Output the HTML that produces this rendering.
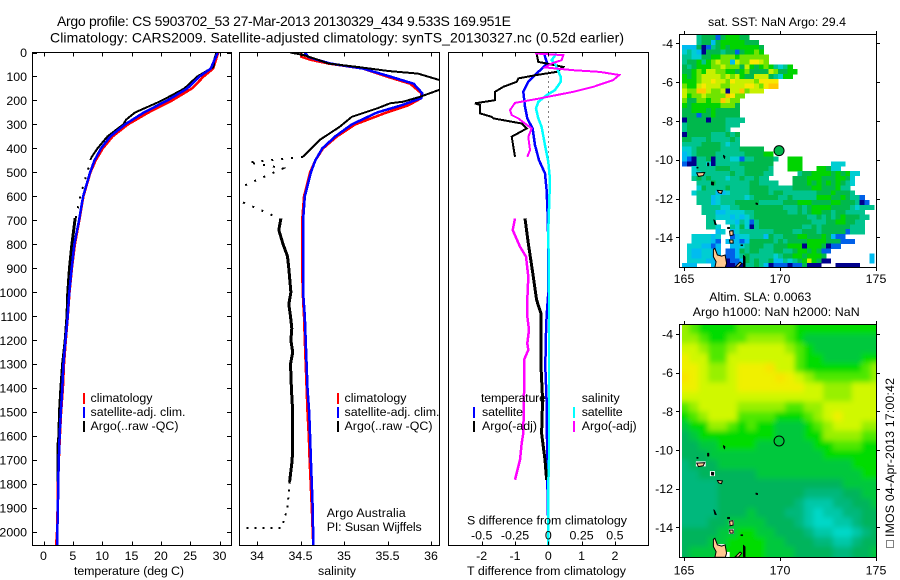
<!DOCTYPE html>
<html lang="en">
<head>
<meta charset="utf-8">
<title>Argo profile</title>
<style>
html,body{margin:0;padding:0;background:#fff}
svg{display:block}
text{font-family:"Liberation Sans",sans-serif;font-size:12.4px;fill:#000}
</style>
</head>
<body>
<svg id="chart" xmlns="http://www.w3.org/2000/svg" width="900" height="580" viewBox="0 0 900 580">
<defs>
<clipPath id="clip-t"><rect x="33" y="53" width="198" height="492"/></clipPath>
<clipPath id="clip-s"><rect x="240" y="53" width="199" height="492"/></clipPath>
<clipPath id="clip-d"><rect x="449" y="53" width="199" height="492"/></clipPath>
<clipPath id="clip-sst"><rect x="680" y="35" width="196" height="232"/></clipPath>
<clipPath id="clip-sla"><rect x="682" y="325" width="194" height="232"/></clipPath>
<filter id="soft" filterUnits="userSpaceOnUse" x="640" y="290" width="260" height="290"><feGaussianBlur stdDeviation="2.6"/></filter>
</defs>
<rect x="0" y="0" width="900" height="580" fill="#fff"/>
<text x="57" y="26" style="font-size:14px" textLength="454" lengthAdjust="spacing">Argo profile: CS 5903702_53 27-Mar-2013 20130329_434 9.533S 169.951E</text>
<text x="50" y="42.5" style="font-size:14px" textLength="574" lengthAdjust="spacing">Climatology: CARS2009. Satellite-adjusted climatology: synTS_20130327.nc (0.52d earlier)</text>

<g id="panel-t"></g>
<g id="panel-s"></g>
<g id="panel-d"></g>
<g id="panel-sst"></g>
<g id="panel-sla"></g>

<text x="74" y="575" textLength="110" lengthAdjust="spacing">temperature (deg C)</text>
<text x="318" y="575" textLength="38" lengthAdjust="spacing">salinity</text>
<text x="467" y="575" textLength="159" lengthAdjust="spacing">T difference from climatology</text>
<text x="467" y="524.5" textLength="160" lengthAdjust="spacing">S difference from climatology</text>

<g>
<rect x="83" y="393" width="2" height="11" fill="#f00"/>
<rect x="83" y="407" width="2" height="11" fill="#00f"/>
<rect x="83" y="421" width="2" height="11" fill="#000"/>
<text x="90.5" y="402" textLength="62">climatology</text>
<text x="90.5" y="416" textLength="95">satellite-adj. clim.</text>
<text x="90.5" y="430" textLength="88">Argo(..raw -QC)</text>
</g>
<g>
<rect x="337" y="393" width="2" height="11" fill="#f00"/>
<rect x="337" y="407" width="2" height="11" fill="#00f"/>
<rect x="337" y="421" width="2" height="11" fill="#000"/>
<text x="344.5" y="402" textLength="62">climatology</text>
<text x="344.5" y="416" textLength="95">satellite-adj. clim.</text>
<text x="344.5" y="430" textLength="88">Argo(..raw -QC)</text>
</g>
<g>
<text x="326.7" y="517" textLength="79">Argo Australia</text>
<text x="326.7" y="531" textLength="95">PI: Susan Wijffels</text>
</g>
<g>
<text x="481" y="402" textLength="65">temperature</text>
<rect x="473" y="407" width="2" height="11" fill="#00f"/>
<text x="482" y="416" textLength="41">satellite</text>
<rect x="473" y="421" width="2" height="11" fill="#000"/>
<text x="482" y="430" textLength="55">Argo(-adj)</text>
<text x="581.7" y="402" textLength="38">salinity</text>
<rect x="573" y="407" width="2" height="11" fill="#0ff"/>
<text x="581.7" y="416" textLength="41">satellite</text>
<rect x="573" y="421" width="2" height="11" fill="#f0f"/>
<text x="581.7" y="430" textLength="55">Argo(-adj)</text>
</g>

<text x="708" y="26" textLength="138">sat. SST: NaN Argo: 29.4</text>
<text x="709.3" y="301" textLength="102">Altim. SLA: 0.0063</text>
<text x="692.7" y="316" textLength="167">Argo h1000: NaN h2000: NaN</text>

<g>
<rect x="886.5" y="540.5" width="7" height="7" fill="none" stroke="#000" stroke-width="1" stroke-dasharray="1 1"/>
<text transform="translate(894 537) rotate(-90)" x="0" y="0" textLength="159">IMOS 04-Apr-2013 17:00:42</text>
</g>
</svg>

<script>
// ---------- tick labels ----------
var depthTicks = [0,100,200,300,400,500,600,700,800,900,1000,1100,1200,1300,1400,1500,1600,1700,1800,1900,2000];
var tempTicks = [0,5,10,15,20,25,30];
var salTicks = [34,34.5,35,35.5,36];
var dTTicks = [-2,-1,0,1,2];
var dSTicks = [-0.5,-0.25,0,0.25,0.5];
var latTicks = [-4,-6,-8,-10,-12,-14];
var lonTicks = [165,170,175];

// ---------- temperature profiles ----------
var climTDepth = [0,67,100,150,200,250,300,350,400,450,500,600,700,800,900,1000,1100,1200,1300,1400,1500,1600,1700,1800,1900,2000,2056];
var climT = [29.8,28.9,27.3,25.3,21.9,17.9,14.4,11.8,10.1,8.9,8.0,6.8,6.1,5.35,4.84,4.43,4.15,3.8,3.5,3.3,3.0,2.8,2.6,2.45,2.4,2.3,2.15];
var satT = [29.7,28.5,26.6,24.5,21.1,17.1,13.9,11.4,9.8,8.7,7.95,6.75,6.05,5.25,4.8,4.4,4.12,3.75,3.4,3.2,2.95,2.75,2.6,2.5,2.45,2.35,2.3];
var argoTDepthA = [0,20,60,70,100,150,200,210,250,280,300,350,400,440];
var argoTA = [29.5,29.2,29.0,28.3,26.2,24.0,20.2,19.3,15.6,14.1,13.6,10.9,9.2,8.1];
var argoTDepthDots = [440,458,600,690];
var argoTDots = [8.1,7.95,6.25,5.5];
var argoTDepthB = [690,800,900,1000,1100,1200,1300,1400,1500,1600,1640,1790];
var argoTB = [5.4,4.84,4.43,4.15,4.0,3.7,3.25,2.96,2.73,2.62,2.45,2.5];

// ---------- salinity profiles ----------
var salDepth = [0,18,30,46,67,100,130,170,190,220,250,300,350,400,450,500,600,700,900,1000,1100,1200,1300,1400,1500,1600,1700,1800,1900,2000,2056];
var climS = [34.51,34.51,34.61,34.82,35.22,35.49,35.76,35.89,35.89,35.74,35.49,35.13,34.92,34.76,34.67,34.61,34.54,34.52,34.52,34.525,34.54,34.55,34.56,34.57,34.58,34.595,34.605,34.617,34.63,34.64,34.647];
var satS = [34.55,34.59,34.69,34.84,35.22,35.53,35.8,35.9,35.89,35.66,35.38,35.09,34.9,34.75,34.67,34.62,34.55,34.53,34.53,34.53,34.55,34.56,34.57,34.58,34.6,34.61,34.62,34.63,34.64,34.645,34.65];
var argoSDepthA = [0,10,30,46,60,77,88,115,135,155,185,205,212,233,268,310,365,435];
var argoSA = [34.38,34.53,34.7,34.82,35.15,35.51,35.85,36.1,36.2,36.1,35.87,35.68,35.53,35.38,35.09,34.95,34.72,34.53];
var argoSDepthDots1 = [435,458,483,557];
var argoSDots1 = [34.53,33.9,34.3,33.84];
var argoSDepthDots2 = [625,692];
var argoSDots2 = [33.84,34.26];
var argoSDepthB = [692,740,800,850,900,1000,1050,1100,1150,1200,1250,1300,1400,1500,1600,1700,1790];
var argoSB = [34.275,34.25,34.3,34.35,34.365,34.39,34.365,34.385,34.4,34.39,34.41,34.385,34.395,34.41,34.41,34.405,34.375];
var argoSDepthDots3 = [1790,1900,1962,1982,1982];
var argoSDots3 = [34.375,34.35,34.3,34.28,33.81];

// ---------- differences ----------
var dSatTDepth = [4,46,81,122,164,226,275,317,386,449,504,574,671,800,1000,1100,1171,1310,1449,1727,1865,1977];
var dSatT = [-0.13,-0.03,-0.3,-0.6,-0.75,-0.7,-0.63,-0.47,-0.4,-0.28,-0.1,-0.05,-0.02,0,0,-0.05,-0.07,-0.09,-0.05,-0.03,-0.02,0];
var dSatSDepth = [4,32,46,101,122,157,178,206,233,275,310,386,456,532,615,740,1000,1700,1800,2056];
var dSatS = [0.0625,0.025,0.05,0.0925,0.0925,0.05,-0.0125,-0.075,-0.0925,-0.075,-0.05,-0.025,0,0.0125,0.0075,0,0.005,0.005,0,0];
var dArgoTDepthA = [4,39,46,60,81,94,108,122,143,164,199,212,219,254,268,275,296,317,351,435];
var dArgoTA = [-0.35,-0.3,-0.05,0.45,0.25,-0.35,-0.9,-0.95,-1.35,-1.6,-1.6,-2.2,-2.05,-2.05,-1.7,-1.65,-0.8,-0.65,-1.1,-1.0];
var dArgoTDepthB = [692,796,935,1032,1088,1310,1449,1588,1699,1782];
var dArgoTB = [-0.7,-0.6,-0.45,-0.35,-0.22,-0.22,-0.17,-0.2,-0.1,-0.05];
var dArgoSDepthA = [4,11,32,46,62,74,81,94,115,143,164,194,210,240,261,275,317,351,407,435];
var dArgoSA = [-0.1,0.1125,0.1,0.025,-0.025,0.1875,0.3875,0.5325,0.4875,0.3375,0.1875,-0.0875,-0.25,-0.2875,-0.275,-0.225,-0.125,-0.15,-0.1375,-0.1575];
var dArgoSDepthB = [692,740,810,851,935,1032,1101,1157,1213,1240,1282,1421,1588,1629,1699,1782];
var dArgoSB = [-0.25,-0.2675,-0.2125,-0.1675,-0.15,-0.1575,-0.1575,-0.145,-0.1575,-0.15,-0.1825,-0.1825,-0.1875,-0.2,-0.2125,-0.25];
var zeroDepth = [80,450];
var zeroValue = [0,0];

// ---------- SST map (0.25 deg cells, a=coldest .. k=warmest) ----------
var sstCodes = {a:'#00008c',b:'#0060e8',c:'#00bcf0',d:'#00ced2',e:'#00c48e',f:'#00b84c',g:'#00d400',h:'#70e400',i:'#c8f000',j:'#f8e800',k:'#ffc800'};
var sstRows = [
"...efffbfgggff",
"...effcfgggggfff",
"cccfabefgfggggggf",
"dedcafffeffbfgghg",
"eeddffgghhhghhhhhh",
"effgeghihhcihhjjih",
"fefggghhihhhfigfghgedeg",
"ffghgiihhggfghffffihffgg",
"gfghiiiihihigffiiifedgg",
"ggghiijiihjiiiihjjjj",
"hggijiiihhiiijjihjkk",
"ihhkkihhiaiikhiii",
"ighhihhhhkjhh",
"hffhhghhkihh",
"gfgggggghhhf",
"ffgggfgfffff",
"fffbffgfffff",
"affffafffeeee",
"effffffffeee",
"effffffffe",
"afffffeeefef",
"ffeeefeeeefe",
"eeeeffffedee",
"ddefffffeeeefffff",
"cdeffffeeeeeeffffgg",
"cbaeefaeeeddbeeffffe..ggg",
"baaeedaeeeeefffffff...ggg......ddd",
"..deeeefffeeefffffe...ggg...ggfdd",
"..ddeeeeeefeeffffee.....effggggfgfgdd",
"..efefeeedeefeefee.....fffgggfffggfd",
"...eeefeeeeeeeffeeee...fffgfgfgfgfed",
"...dfeeeefeeeeffffeeeeeffffggfffgee",
"..deeeeccdeeeeffffeffeeeeeeefffgfffe",
"...eeecdeeeeedefffffeefeeeeegggffgfeeb",
"...eeecdeeefffffeeeeefffgggffffggfffeab",
"....eeeeddeefffffffffeeefefggggffffedeee",
"....eeeccddddeefffffffeefefggffeffeeee",
".....eedddcdcdefffffffffffeefefefgfffee",
".....ee..ddcedbefffffffffffeeeffggffee",
".....eed..edfdaefffffffffeefeffffffeee",
".......cd.cdeeeeeeeffffeefffefffffbeee",
"..ddddcd..bcddeeecfeefffggfffgfcbb",
"..ddddcb.cccbcfffffefeffffggggfffbbb",
".dddccbc..ccdefffeefffgggagggfabb",
".dccddcc.bbcfeffeeeffeefggfgfbb",
".dccddcc.bbcefeeeeedeffggfgggf.........c",
".ddddcc..abbcfefeefccedefgigfaa........c",
"ccc...c..aabaeefecabbbabbfaaa...aaaaa.."
];

// ---------- SLA map (0.5 deg cells, 0=lowest .. a=highest) ----------
var slaCodes = {'0':'#00d8c8','1':'#00c8a8','2':'#00b87c','3':'#00b45c','4':'#00c83c','5':'#00dc00','6':'#50e800','7':'#98f000','8':'#d0f800','9':'#f0f000','a':'#f8e400'};
var slaRows = [
"765555666666555555555",
"776556677776544444444",
"887667888887654444444",
"988668888888655444455",
"998778999a88655555567",
"a987789999a987666666 78".replace(/ /g,'').slice(0,21),
"998888999999988777888",
"888888888888888777888",
"678888777776677888888",
"567888666655567898888",
"455776565544456788877",
"345555555544455777766",
"334455554444445566655",
"333444444444444555555",
"233344444444444444555",
"223333334444444444455",
"222233333333333334444",
"222233333333322223344",
"222233333333211122334",
"222233343332210112233",
"222334444333210011233",
"333344554433321100123",
"333445555443332211233",
"344455555444333322334"
];
// cells with no altimetry over land (lon, lat of the cell centre)
var slaMissingLon = [165.75,166.0,166.48,167.47,167.47,166.75,167.0,167.25];
var slaMissingLat = [-10.72,-10.72,-11.22,-13.76,-14.21,-15.0,-15.0,-15.4];

// ---------- islands ----------
var landPeach = [
 [[166.53,-14.62],[166.61,-14.57],[166.74,-14.91],[166.96,-14.97],[167.14,-14.91],[167.22,-15.34],[167.15,-15.55],[166.61,-15.55],[166.67,-15.26],[166.53,-15.0]],
 [[167.67,-15.52],[167.92,-15.28],[168.0,-15.34],[167.83,-15.55]],
 [[167.37,-13.68],[167.55,-13.66],[167.56,-13.88],[167.4,-13.92]],
 [[167.37,-14.14],[167.55,-14.14],[167.56,-14.3],[167.4,-14.3]],
 [[166.74,-11.58],[167.0,-11.6],[166.95,-11.74],[166.8,-11.7]],
 [[165.66,-10.68],[166.08,-10.66],[166.0,-10.82],[165.75,-10.86]]
];
var landBlack = [
 [[168.09,-14.91],[168.19,-15.0],[168.19,-15.55],[168.09,-15.52]],
 [[167.04,-9.76],[167.14,-9.82],[167.12,-9.96],[167.06,-9.88]],
 [[166.22,-10.16],[166.3,-10.16],[166.3,-10.32],[166.22,-10.32]],
 [[166.54,-13.08],[166.6,-13.12],[166.7,-13.36],[166.6,-13.34]],
 [[168.74,-12.22],[168.84,-12.24],[168.84,-12.32],[168.74,-12.3]],
 [[167.96,-14.38],[168.06,-14.38],[168.06,-14.44],[167.96,-14.44]],
 [[167.26,-13.48],[167.38,-13.48],[167.38,-13.56],[167.26,-13.56]],
 [[166.42,-11.14],[166.56,-11.16],[166.54,-11.32],[166.42,-11.3]],
 [[165.66,-10.38],[165.74,-10.38],[165.74,-10.44],[165.66,-10.44]]
];

// ---------- Argo location ----------
var argoLon = [169.951];
var argoLat = [-9.533];
var argoSst = ['f'];

// ---------- axis functions ----------
var NS = 'http://www.w3.org/2000/svg';
function yDepth(d){ return 52.5 + d * 0.2398; }
function xTemp(v){ return 43.5 + v * 5.867; }
function xSal(v){ return 257 + (v - 34) * 87; }
function xDT(v){ return 548.3 + v * 33.3; }
function xDS(v){ return 548.3 + v * 133.2; }
function xLon(v){ return 684 + (v - 165) * 19.2; }
function ySst(v){ return 43.3 + (-4 - v) * 19.4; }
function ySla(v){ return 334 + (-4 - v) * 19.33; }

function make(tag, parent, attrs){
  var el = document.createElementNS(NS, tag);
  for (var k in attrs) el.setAttribute(k, attrs[k]);
  parent.appendChild(el);
  return el;
}
function drawLine(parent, name, depths, values, xf, color, width, clip, dash){
  var pts = [];
  for (var i = 0; i < depths.length; i++) pts.push(xf(values[i]).toFixed(1) + ',' + yDepth(depths[i]).toFixed(1));
  var el = make('polyline', parent, {points: pts.join(' '), fill: 'none', stroke: color, 'stroke-width': width, 'clip-path': 'url(#' + clip + ')', 'shape-rendering': 'crispEdges'});
  
  
  if (dash) el.setAttribute('stroke-dasharray', dash);
  return el;
}
function drawFrame(parent, x0, y0, x1, y1){
  var el = make('rect', parent, {x: x0, y: y0, width: x1 - x0, height: y1 - y0, fill: 'none', stroke: '#000', 'stroke-width': 1, 'shape-rendering': 'crispEdges'});
  
  
}
function tick(parent, x1, y1, x2, y2){
  var el = make('line', parent, {x1: x1, y1: y1, x2: x2, y2: y2, stroke: '#000', 'stroke-width': 1, 'shape-rendering': 'crispEdges'});
  
  
}
function label(parent, name, x, y, str, anchor){
  var el = make('text', parent, {x: x, y: y, 'text-anchor': anchor});
  el.textContent = str;
  
  
}
function bottomAxis(parent, ticks, xf, y0, y1, labelY, name){
  ticks.forEach(function(v){
    var x = Math.round(xf(v)) + 0.5;
    tick(parent, x, y0, x, y0 + 4);
    tick(parent, x, y1, x, y1 - 4);
    label(parent, name, xf(v), labelY, String(v), 'middle');
  });
}

// ---------- profile panels ----------
var pT = document.getElementById('panel-t');
drawLine(pT, 'temperature-climatology-line', climTDepth, climT, xTemp, '#f00', 2.5, 'clip-t');
drawLine(pT, 'temperature-argo-line-lower', argoTDepthB, argoTB, xTemp, '#000', 3, 'clip-t');
drawLine(pT, 'temperature-argo-line-upper', argoTDepthA, argoTA, xTemp, '#000', 2, 'clip-t');
drawLine(pT, 'temperature-argo-dots', argoTDepthDots, argoTDots, xTemp, '#000', 2, 'clip-t', '2 8');
drawLine(pT, 'temperature-satellite-line', climTDepth, satT, xTemp, '#00f', 2.5, 'clip-t');
drawFrame(pT, 32.5, 52.5, 231.5, 545.5);
bottomAxis(pT, tempTicks, xTemp, 52.5, 545.5, 560, 'temperature-tick-label');
depthTicks.forEach(function(d){
  var y = Math.round(yDepth(d)) + 0.5;
  tick(pT, 32.5, y, 37, y);
  tick(pT, 231.5, y, 227, y);
  label(pT, 'depth-tick-label', 27, yDepth(d) + 4.5, String(d), 'end');
});

var pS = document.getElementById('panel-s');
drawLine(pS, 'salinity-climatology-line', salDepth, climS, xSal, '#f00', 2.5, 'clip-s');
drawLine(pS, 'salinity-satellite-line', salDepth, satS, xSal, '#00f', 2.5, 'clip-s');
drawLine(pS, 'salinity-argo-line-upper', argoSDepthA, argoSA, xSal, '#000', 2, 'clip-s');
drawLine(pS, 'salinity-argo-dots-1', argoSDepthDots1, argoSDots1, xSal, '#000', 2, 'clip-s', '2 8');
drawLine(pS, 'salinity-argo-dots-2', argoSDepthDots2, argoSDots2, xSal, '#000', 2, 'clip-s', '2 8');
drawLine(pS, 'salinity-argo-line-lower', argoSDepthB, argoSB, xSal, '#000', 3, 'clip-s');
drawLine(pS, 'salinity-argo-dots-3', argoSDepthDots3, argoSDots3, xSal, '#000', 2, 'clip-s', '2 6');
drawFrame(pS, 239.5, 52.5, 439.5, 545.5);
bottomAxis(pS, salTicks, xSal, 52.5, 545.5, 560, 'salinity-tick-label');

var pD = document.getElementById('panel-d');
drawLine(pD, 'zero-reference-line', zeroDepth, zeroValue, xDT, '#000', 1, 'clip-d', '1 4');
drawLine(pD, 't-diff-satellite-line', dSatTDepth, dSatT, xDT, '#00f', 2.5, 'clip-d');
drawLine(pD, 't-diff-argo-line-upper', dArgoTDepthA, dArgoTA, xDT, '#000', 2, 'clip-d');
drawLine(pD, 't-diff-argo-line-lower', dArgoTDepthB, dArgoTB, xDT, '#000', 3, 'clip-d');
drawLine(pD, 's-diff-satellite-line', dSatSDepth, dSatS, xDS, '#0ff', 2.5, 'clip-d');
drawLine(pD, 's-diff-argo-line-upper', dArgoSDepthA, dArgoSA, xDS, '#f0f', 2, 'clip-d');
drawLine(pD, 's-diff-argo-line-lower', dArgoSDepthB, dArgoSB, xDS, '#f0f', 2.5, 'clip-d');
drawFrame(pD, 448.5, 52.5, 648.5, 545.5);
bottomAxis(pD, dTTicks, xDT, 52.5, 545.5, 560, 't-difference-tick-label');
dSTicks.forEach(function(v){
  label(pD, 's-difference-tick-label', xDS(v), 539.5, String(v), 'middle');
});

// ---------- maps ----------
function drawLand(parent, yf){
  landPeach.forEach(function(shape){
    var el = make('polygon', parent, {points: shape.map(function(p){ return xLon(p[0]).toFixed(1) + ',' + yf(p[1]).toFixed(1); }).join(' '), fill: '#ffc890', stroke: '#000', 'stroke-width': 1});
    
    
  });
  landBlack.forEach(function(shape){
    var el = make('polygon', parent, {points: shape.map(function(p){ return xLon(p[0]).toFixed(1) + ',' + yf(p[1]).toFixed(1); }).join(' '), fill: '#000', stroke: '#000', 'stroke-width': 0.5});
    
    
  });
}
function mapAxes(parent, yf, lonLabelY, frameTop, frameBottom){
  drawFrame(parent, 679.5, frameTop, 876.5, frameBottom);
  latTicks.forEach(function(v){
    var y = Math.round(yf(v)) + 0.5;
    tick(parent, 676, y, 679.5, y);
    tick(parent, 876.5, y, 880, y);
    label(parent, 'latitude-tick-label', 673, yf(v) + 4.5, String(v), 'end');
  });
  lonTicks.forEach(function(v){
    var x = Math.round(xLon(v)) + 0.5;
    tick(parent, x, frameTop - 3.5, x, frameTop);
    tick(parent, x, frameBottom, x, frameBottom + 3.5);
    label(parent, 'longitude-tick-label', xLon(v), lonLabelY, String(v), 'middle');
  });
}

var pSst = document.getElementById('panel-sst');
var sstCells = make('g', pSst, {'clip-path': 'url(#clip-sst)', 'shape-rendering': 'crispEdges'});


sstRows.forEach(function(row, r){
  var latTop = -3.58 - r * 0.25;
  for (var c = 0; c < row.length; c++){
    var code = row.charAt(c);
    if (code === '.') continue;
    var lonLeft = 164.9 + c * 0.25;
    var x0 = xLon(lonLeft), y0 = ySst(latTop);
    var cell = make('rect', sstCells, {x: x0.toFixed(2), y: y0.toFixed(2), width: (xLon(lonLeft + 0.25) - x0 + 0.3).toFixed(2), height: (ySst(latTop - 0.25) - y0 + 0.3).toFixed(2), fill: sstCodes[code]});
    
    
  }
});
var sstLand = make('g', pSst, {'clip-path': 'url(#clip-sst)'});


drawLand(sstLand, ySst);
var sstMark = make('circle', pSst, {cx: xLon(argoLon[0]), cy: ySst(argoLat[0]), r: 5, fill: sstCodes[argoSst[0]], stroke: '#000', 'stroke-width': 1});


mapAxes(pSst, ySst, 283, 34.5, 267.5);

var pSla = document.getElementById('panel-sla');
var slaClip = make('g', pSla, {'clip-path': 'url(#clip-sla)'});


var slaCells = make('g', slaClip, {filter: 'url(#soft)', 'shape-rendering': 'crispEdges'});


slaRows.forEach(function(row, r){
  var latTop = -3.5 - r * 0.5;
  for (var c = 0; c < row.length; c++){
    var lonLeft = 164.75 + c * 0.5;
    var x0 = xLon(lonLeft), x1 = xLon(lonLeft + 0.5);
    var y0 = ySla(latTop), y1 = ySla(latTop - 0.5);
    if (c === 0) x0 -= 20;
    if (c === row.length - 1) x1 += 20;
    if (r === 0) y0 -= 20;
    if (r === slaRows.length - 1) y1 += 20;
    var cell = make('rect', slaCells, {x: x0.toFixed(2), y: y0.toFixed(2), width: (x1 - x0 + 0.3).toFixed(2), height: (y1 - y0 + 0.3).toFixed(2), fill: slaCodes[row.charAt(c)]});
    
    
  }
});
slaMissingLon.forEach(function(lon, i){
  var miss = make('rect', slaClip, {x: (xLon(lon) - 2.5).toFixed(1), y: (ySla(slaMissingLat[i]) - 2.5).toFixed(1), width: 5, height: 5, fill: '#fff'});
  
  
});
drawLand(slaClip, ySla);
var slaMark = make('circle', pSla, {cx: xLon(argoLon[0]), cy: ySla(argoLat[0]), r: 5, fill: 'none', stroke: '#000', 'stroke-width': 1});


mapAxes(pSla, ySla, 574.5, 324.5, 557.5);
</script>
</body>
</html>
